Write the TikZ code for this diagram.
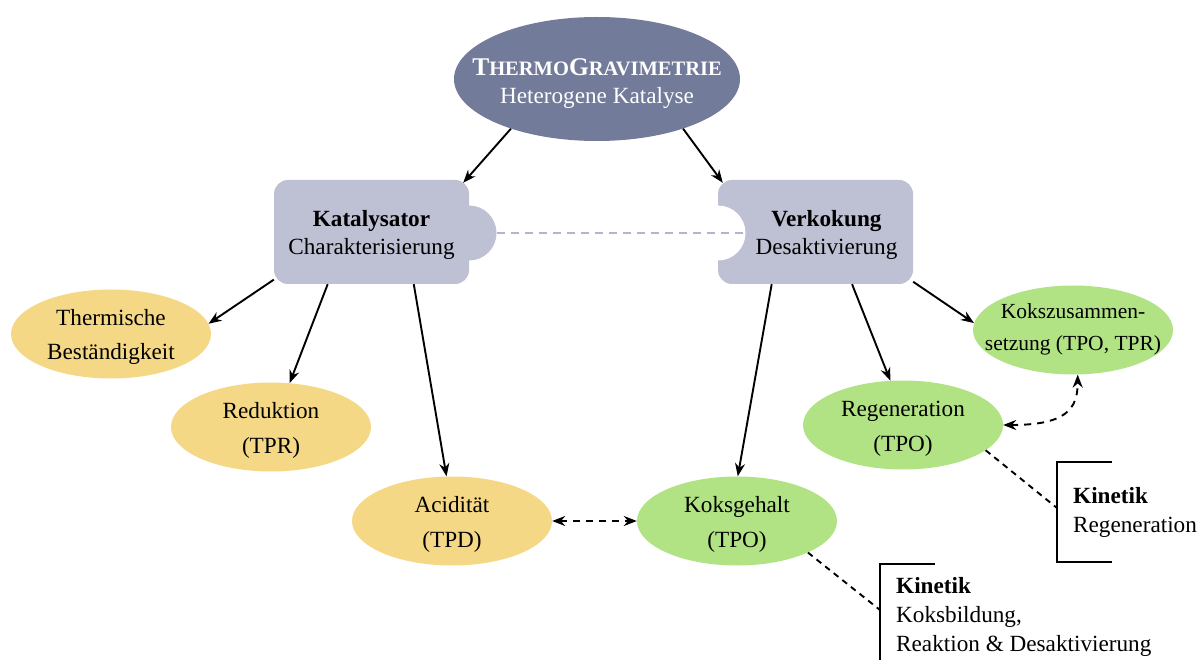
\documentclass[tikz,border=0pt]{standalone}
\usepackage{fontspec}
\setmainfont{Liberation Serif}
\usetikzlibrary{shapes.geometric,arrows.meta,calc}
\definecolor{topc}{HTML}{737B9B}
\definecolor{boxc}{HTML}{BEC0D3}
\definecolor{yelc}{HTML}{F5D886}
\definecolor{grnc}{HTML}{B1E384}
\definecolor{dashc}{HTML}{B3B5CC}
\newcommand\twol[4][0pt]{\begin{tabular}{@{\hspace{#1}}c@{}}\rule{0pt}{#2}#3\\#4\end{tabular}}
\newcommand\bigcp[1]{{\fontsize{25.5}{28}\selectfont #1}}
\newcommand\smallcp[1]{{\fontsize{20.5}{28}\selectfont #1}}
\begin{document}
\begin{tikzpicture}[x=1pt,y=-1pt,
  topell/.style={ellipse, fill=topc, minimum width=286pt, minimum height=124pt, inner xsep=-60pt, inner ysep=-20pt, text=white, font=\fontsize{23.2}{28}\selectfont},
  bigbox/.style={rectangle, rounded corners=14pt, fill=boxc, minimum width=195pt, minimum height=104pt, inner sep=0pt, font=\fontsize{23.2}{28}\selectfont},
  yell/.style={ellipse, fill=yelc, minimum width=200pt, minimum height=89pt, inner xsep=-40pt, inner ysep=-15pt, font=\fontsize{23.2}{35}\selectfont},
  gell/.style={ellipse, fill=grnc, minimum width=200pt, minimum height=89pt, inner xsep=-40pt, inner ysep=-15pt, font=\fontsize{23.2}{35}\selectfont},
  kin/.style={anchor=west, align=left, inner xsep=16pt, inner ysep=0pt, font=\fontsize{23.2}{29}\selectfont},
  arr/.style={line width=1.9pt, -{Stealth[length=13pt,width=10pt]}},
  darr/.style={line width=1.9pt, dash pattern=on 7pt off 6pt, {Stealth[length=13pt,width=10pt]}-{Stealth[length=13pt,width=10pt]}},
  dline/.style={line width=1.9pt, dash pattern=on 6pt off 5pt},
  brk/.style={line width=1.9pt},
  halfc/.style={circle, minimum size=55pt, inner sep=0pt}
]
\useasboundingbox (0,0) rectangle (1202,660);

\node[topell] (top) at (597,79) {\twol{30pt}{\textbf{\bigcp{T}\smallcp{HERMO}\bigcp{G}\smallcp{RAVIMETRIE}}}{Heterogene Katalyse}};

\node[halfc, fill=boxc] (kc) at (469,233) {};
\node[bigbox] (kat) at (371.5,232) {\twol{25.6pt}{\textbf{Katalysator}}{Charakterisierung}};
\node[bigbox] (verk) at (815.5,232) {\twol[22pt]{25.6pt}{\textbf{Verkokung}}{Desaktivierung}};
\node[halfc, fill=white] (vc) at (718,233) {};
\draw[dashc, line width=2pt, dash pattern=on 8pt off 6pt] (kc.east) -- (vc.east);

\node[yell] (th) at (111,334) {\twol{27.5pt}{Thermische}{Beständigkeit}};
\node[yell] (red) at (271,427) {\twol{27.5pt}{Reduktion}{(TPR)}};
\node[yell] (ac) at (452,521) {\twol{27.5pt}{Acidität}{(TPD)}};
\node[gell] (kg) at (737,521) {\twol{27.5pt}{Koksgehalt}{(TPO)}};
\node[gell] (reg) at (903,425) {\twol{27.5pt}{Regeneration}{(TPO)}};
\node[gell, font=\fontsize{21.5}{32}\selectfont] (ks) at (1073,330) {\twol{22.4pt}{Kokszusammen-}{setzung (TPO, TPR)\rule[-13pt]{0pt}{0pt}}};

\draw[arr] (top.210) -- ($(kat.north east)+(-6,3)$);
\draw[arr] (top.-30) -- ($(verk.north west)+(5,3)$);

\draw[arr] (kat.206) -- (th.6);
\draw[arr] (kat.230) -- (red.67);
\draw[arr] (kat.-51) -- (ac.97);

\draw[arr] (verk.230) -- (kg.89);
\draw[arr] (verk.-55) -- (reg.106);
\draw[arr] (verk.-27) -- (ks.176);

\draw[darr] (ac.east) -- (kg.west);
\draw[darr] (reg.east) .. controls +(62,0) and +(0,35) .. (ks.-84);

\node[kin, minimum height=100pt] (k1) at (1057,512) {\textbf{Kinetik}\\Regeneration};
\draw[brk] ($(k1.north west)+(55,0)$) -- (k1.north west) -- (k1.south west) -- ++(55,0);
\draw[dline] (reg.-17) -- ($(k1.west)+(0,-4)$);

\node[kin, minimum height=106pt] (k2) at (880,617) {\textbf{Kinetik}\\Koksbildung,\\Reaktion \& Desaktivierung};
\draw[brk] ($(k2.north west)+(55,0)$) -- (k2.north west) -- (k2.south west);
\draw[dline] (kg.-24) -- ($(k2.west)+(0,-7)$);
\end{tikzpicture}
\end{document}
